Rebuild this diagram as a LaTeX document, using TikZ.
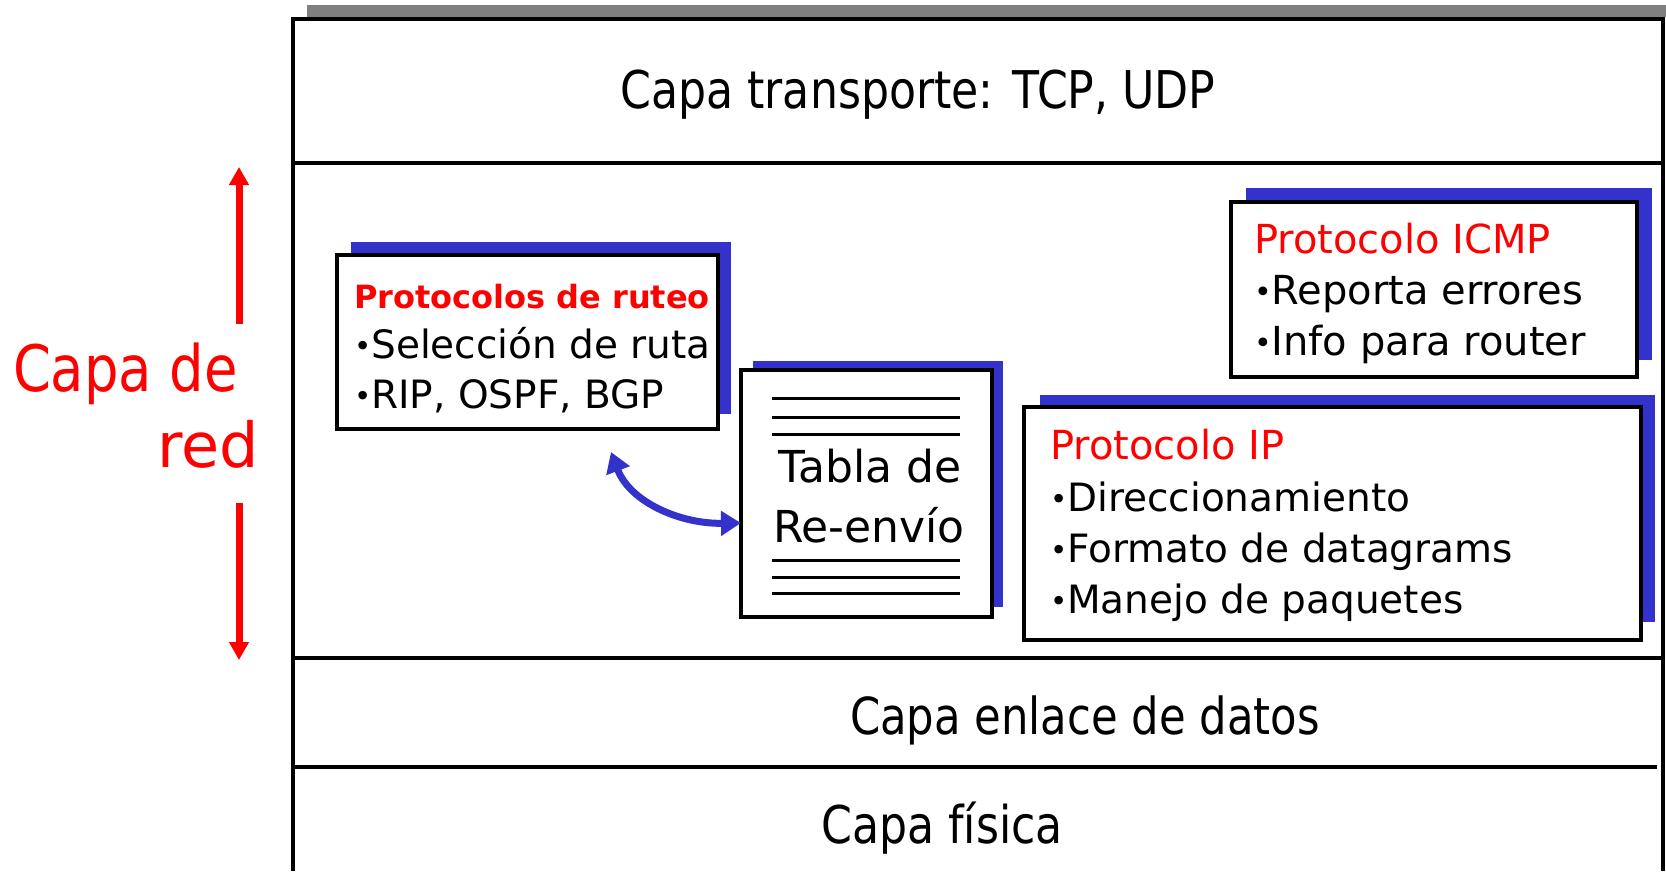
\documentclass[tikz,border=0pt]{standalone}
\usepackage{fontspec}
\usepackage{graphicx}
\usetikzlibrary{arrows.meta}
\newfontfamily\cf{DejaVu Sans}
\newfontfamily\cfc[FakeStretch=0.85]{DejaVu Sans}
\newcommand\bul{\raisebox{0.04em}{\scalebox{0.75}{•}}}
\definecolor{shblue}{HTML}{3333CC}
\definecolor{barg}{HTML}{808080}
\tikzset{
  txt/.style={inner sep=0pt, outer sep=0pt, anchor=base west},
  boxn/.style={draw=black, fill=white, line width=3.5pt, inner sep=0pt, minimum width=#1},
  layer/.style={inner sep=0pt, anchor=base, font=\cfc\fontsize{52}{60}\selectfont},
  bx/.style={font=\cf\fontsize{40}{48}\selectfont},
  redarrow/.style={draw=red, line width=7pt, -{Triangle[width=19pt,length=18pt]}},
  bluearrow/.style={draw=shblue, line width=7pt, {Triangle[width=24pt,length=20pt]}-{Triangle[width=24pt,length=20pt]}},
  tline/.style={line width=3pt, black}
}
\begin{document}
\begin{tikzpicture}[x=1pt,y=-1pt]
\useasboundingbox (0,0) rectangle (1666,871);
% gray bar and frame
\fill[barg] (307,5) rectangle (1666,17);
\draw[line width=4pt] (293,871) -- (293,19) -- (1663,19) -- (1663,871);
\draw[line width=3.5pt] (295,163) -- (1663,163);
\draw[line width=4pt] (295,658) -- (1663,658);
\draw[line width=4pt] (295,767) -- (1657,767);
% layer labels
\node[layer] (transp) at (918,108) {Capa transporte: TCP, UDP};
\node[layer, font=\cfc\fontsize{51}{60}\selectfont] (enlace) at (1085,734) {Capa enlace de datos};
\node[layer] (fisica) at (942,843) {Capa física};
% Capa de red
\node[txt, text=red, font=\cfc\fontsize{64}{70}\selectfont] (capade) at (13,391) {Capa de};
\node[txt, anchor=base east, text=red, font=\cf\fontsize{62}{70}\selectfont] (red) at (259,467) {red};
\coordinate (upB) at (239,324);
\coordinate (upT) at (239,167);
\coordinate (dnT) at (239,503);
\coordinate (dnB) at (239,660);
\draw[redarrow] (upB) -- (upT);
\draw[redarrow] (dnT) -- (dnB);
% shadows
\fill[shblue] (351,242) rectangle (731,414);
\fill[shblue] (753,361) rectangle (1003,607);
\fill[shblue] (1040,395) rectangle (1655,622);
\fill[shblue] (1246,188) rectangle (1652,360);
% boxes
\node[boxn=381pt, minimum height=174pt] (route) at (527.5,342) {};
\node[boxn=251pt, minimum height=247pt] (tabla) at (866.5,493.5) {};
\node[boxn=617pt, minimum height=233pt] (ip) at (1332.5,523.5) {};
\node[boxn=406pt, minimum height=175pt] (icmp) at (1434,289.5) {};
% routing text
\node[txt, text=red, font=\cf\bfseries\fontsize{32}{40}\selectfont] (rt1) at (354,308) {Protocolos de ruteo};
\node[txt, font=\cf\fontsize{39}{46}\selectfont] (rt2) at (354,358) {\bul Selección de ruta};
\node[txt, font=\cf\fontsize{39}{46}\selectfont] (rt3) at (354,408) {\bul RIP, OSPF, BGP};
% tabla
\draw[tline] (772,398) -- (960,398);
\draw[tline] (772,417) -- (960,417);
\draw[tline] (772,434) -- (960,434);
\draw[tline] (772,560) -- (960,560);
\draw[tline] (772,577) -- (960,577);
\draw[tline] (772,593) -- (960,593);
\node[inner sep=0pt, anchor=base, font=\cf\fontsize{44}{52}\selectfont] (tb1) at (870,482) {Tabla de};
\node[inner sep=0pt, anchor=base, font=\cf\fontsize{44}{52}\selectfont] (tb2) at (869,542) {Re-envío};
% IP text
\node[txt, bx, text=red] (ip1) at (1050,459) {Protocolo IP};
\node[txt, bx, font=\cf\fontsize{39}{48}\selectfont] (ip2) at (1050,511) {\bul Direccionamiento};
\node[txt, bx, font=\cf\fontsize{39}{48}\selectfont] (ip3) at (1050,562) {\bul Formato de datagrams};
\node[txt, bx, font=\cf\fontsize{39}{48}\selectfont] (ip4) at (1050,613) {\bul Manejo de paquetes};
% ICMP text
\node[txt, bx, text=red] (ic1) at (1254,253) {Protocolo ICMP};
\node[txt, bx] (ic2) at (1254,304) {\bul Reporta errores};
\node[txt, bx] (ic3) at (1254,355) {\bul Info para router};
% curved arrow
\coordinate (cA) at (611,452);
\coordinate (cB) at (741,523);
\draw[bluearrow] (cA) .. controls (630,502) and (680,524) .. (cB);
\end{tikzpicture}
\end{document}
